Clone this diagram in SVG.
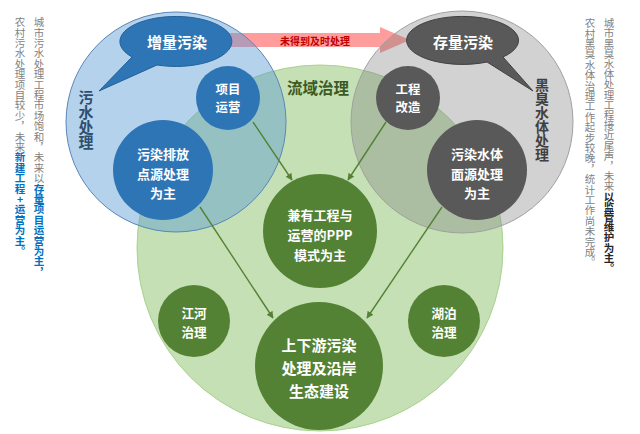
<svg xmlns="http://www.w3.org/2000/svg" width="640" height="434" viewBox="0 0 640 434">
<defs>
<marker id="ah" viewBox="0 0 10 10" refX="9" refY="5" markerWidth="7" markerHeight="7" markerUnits="userSpaceOnUse" orient="auto">
<path d="M0,0 L10,5 L0,10 Z" fill="#548235"/>
</marker>
<style>
text{font-family:"Noto Sans CJK SC","Noto Sans",sans-serif;}
.w{fill:#ffffff;font-weight:bold;text-anchor:middle;dominant-baseline:central;}
.side{font-size:10.5px;fill:#7f7f7f;writing-mode:vertical-rl;text-orientation:upright;}
.hb{fill:#0070c0;font-weight:bold;}
.hk{fill:#262626;font-weight:bold;}
.gn{fill:#548235;}
.bl{fill:#2e75b6;}
.dk{fill:#595959;}
.conn line{stroke:#548235;stroke-width:1.4;marker-end:url(#ah);}
</style>
</defs>
<rect width="640" height="434" fill="#ffffff"/>

<g id="arrow-red">
<path d="M220,33 L380,33 L380,27 L410,40 L380,53 L380,47 L220,47 Z" fill="#ff5a5a" fill-opacity="0.6"/>
<text x="315" y="40" font-size="10" font-weight="bold" fill="#c00000" text-anchor="middle" dominant-baseline="central">未得到及时处理</text>
</g>

<g id="circle-basin">
<circle cx="320" cy="248" r="183" fill="#c5e0b4" stroke="#a9d18e" stroke-width="1"/>
</g>
<g id="circle-sewage">
<circle cx="176" cy="122" r="110" fill="#5b9bd5" fill-opacity="0.45" stroke="#5a86b8" stroke-width="1"/>
</g>
<g id="circle-blackwater">
<circle cx="462" cy="122" r="111" fill="#7f7f7f" fill-opacity="0.35" stroke="#a0a0a0" stroke-width="1"/>
</g>

<g id="label-sewage">
<text x="86" y="90" font-size="15" font-weight="bold" fill="#2f4f70" style="writing-mode:vertical-rl">污水处理</text>
</g>
<g id="label-basin">
<text x="318" y="87" font-size="15.5" font-weight="bold" fill="#3b5a25" text-anchor="middle" dominant-baseline="central">流域治理</text>
</g>
<g id="label-blackwater">
<text x="542" y="78" font-size="14" font-weight="bold" fill="#404040" style="writing-mode:vertical-rl">黑臭水体处理</text>
</g>

<g class="conn" id="connectors">
<line x1="253" y1="122" x2="292" y2="180"/>
<line x1="200" y1="207" x2="273" y2="318"/>
<line x1="386" y1="122" x2="348" y2="180"/>
<line x1="442" y1="207" x2="367" y2="318"/>
</g>

<g id="bubble-incremental">
<path d="M157,65 A56,25 0 1 0 132,57 L99,91 Z" class="bl" stroke="#24609a" stroke-width="1"/>
<text class="w" x="177" y="41" font-size="15">增量污染</text>
</g>
<g id="bubble-stock">
<path d="M487,62 L533,91 L503,57 A56,24 0 1 0 487,62 Z" class="dk" stroke="#404040" stroke-width="1"/>
<text class="w" x="463" y="41" font-size="15">存量污染</text>
</g>

<g id="node-operation">
<circle cx="228" cy="98" r="32" class="bl"/>
<text class="w" x="228" y="89" font-size="12.4">项目</text>
<text class="w" x="228" y="107" font-size="12.4">运营</text>
</g>
<g id="node-point-source">
<circle cx="163" cy="170" r="50" class="bl"/>
<text class="w" x="163" y="153" font-size="13">污染排放</text>
<text class="w" x="163" y="173" font-size="13">点源处理</text>
<text class="w" x="163" y="192" font-size="13">为主</text>
</g>
<g id="node-engineering">
<circle cx="408" cy="98" r="32" class="dk"/>
<text class="w" x="408" y="89" font-size="12.4">工程</text>
<text class="w" x="408" y="107" font-size="12.4">改造</text>
</g>
<g id="node-area-source">
<circle cx="477" cy="170" r="50" class="dk"/>
<text class="w" x="477" y="153" font-size="13">污染水体</text>
<text class="w" x="477" y="173" font-size="13">面源处理</text>
<text class="w" x="477" y="192" font-size="13">为主</text>
</g>
<g id="node-ppp">
<circle cx="320" cy="231" r="57" class="gn"/>
<text class="w" x="320" y="214" font-size="13">兼有工程与</text>
<text class="w" x="320" y="234" font-size="13">运营的PPP</text>
<text class="w" x="320" y="254" font-size="13">模式为主</text>
</g>
<g id="node-river">
<circle cx="194" cy="321" r="36" class="gn"/>
<text class="w" x="194" y="312" font-size="12.6">江河</text>
<text class="w" x="194" y="331" font-size="12.6">治理</text>
</g>
<g id="node-lake">
<circle cx="444" cy="321" r="36" class="gn"/>
<text class="w" x="444" y="312" font-size="12.6">湖泊</text>
<text class="w" x="444" y="331" font-size="12.6">治理</text>
</g>
<g id="node-updown">
<circle cx="319" cy="366" r="64" class="gn"/>
<text class="w" x="319" y="344" font-size="15">上下游污染</text>
<text class="w" x="319" y="367" font-size="15">处理及沿岸</text>
<text class="w" x="319" y="390" font-size="15">生态建设</text>
</g>

<g id="note-left">
<text class="side" x="39" y="17 27.4 37.8 48.2 58.6 69 79.4 89.8 100.2 110.6 121 131.4 141.8 152.2 162.6 173">城市污水处理工程市场饱和，未来以</text>
<text class="side hb" x="39" y="183.4 193.8 204.2 214.6 225 235.4 245.8 256.2 266.6">存量项目运营为主，</text>
<text class="side" x="20" y="17 27.4 37.8 48.2 58.6 69 79.4 89.8 100.2 110.6 121 131.4 141.8">农村污水处理项目较少，未来</text>
<text class="side hb" x="20" y="152.2 162.6 173 183.4 193.8 204.2 214.6 225 235.4 245.8">新建工程+运营为主。</text>
</g>
<g id="note-right">
<text class="side" x="609" y="18 28.2 38.4 48.6 58.8 69 79.2 89.4 99.6 109.8 120 130.2 140.4 150.6 160.8 171 181.2">城市黑臭水体处理工程接近尾声，未来</text>
<text class="side hk" x="609" y="191.4 201.6 211.8 222 232.2 242.4 252.6 262.8">以监管维护为主。</text>
<text class="side" x="590" y="18 28.4 38.8 49.2 59.6 70 80.4 90.8 101.2 111.6 122 132.4 142.8 153.2 163.6 174 184.4 194.8 205.2 215.6 226 236.4 246.8 257.2">农村黑臭水体治理工作起步较晚，统计工作尚未完成。</text>
</g>
</svg>
